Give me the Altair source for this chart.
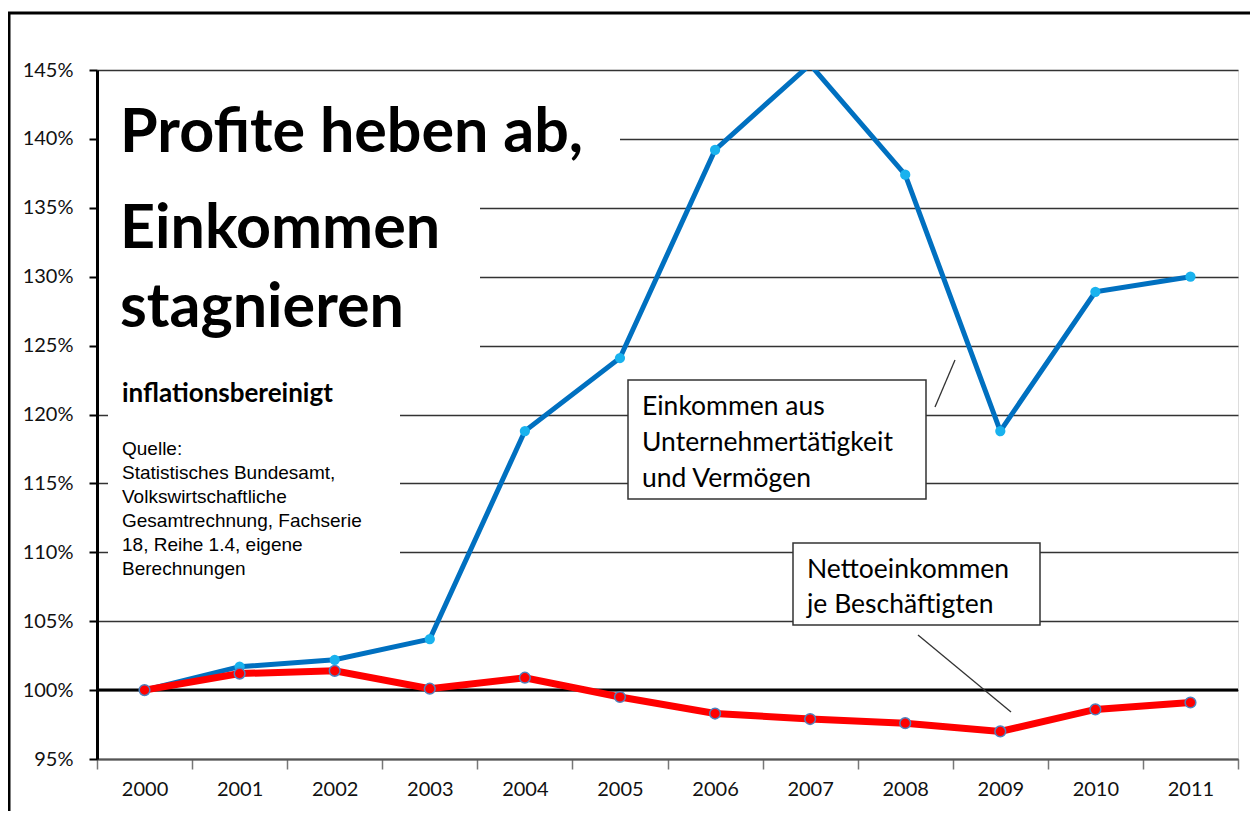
import altair as alt
import pandas as pd

# ---------------- data ----------------
years = ["2000", "2001", "2002", "2003", "2004", "2005",
         "2006", "2007", "2008", "2009", "2010", "2011"]
profit = [100.0, 101.7, 102.2, 103.7, 118.8, 124.1,
          139.2, 145.4, 137.4, 118.8, 128.9, 130.0]
netto = [100.0, 101.2, 101.4, 100.1, 100.9, 99.5,
         98.3, 97.9, 97.6, 97.0, 98.6, 99.1]
y_ticks = [95, 100, 105, 110, 115, 120, 125, 130, 135, 140, 145]
reference = [100]

title_lines = ["Profite heben ab,", "Einkommen", "stagnieren"]
subtitle = "inflationsbereinigt"
source_lines = ["Quelle:", "Statistisches Bundesamt,", "Volkswirtschaftliche",
                "Gesamtrechnung, Fachserie", "18, Reihe  1.4,  eigene", "Berechnungen"]
label_profit = ["Einkommen aus", "Unternehmertätigkeit", "und Vermögen"]
label_netto = ["Nettoeinkommen", "je Beschäftigten"]

df_profit = pd.DataFrame({"year": years, "value": profit})
df_netto = pd.DataFrame({"year": years, "value": netto})
df_ref = pd.DataFrame({"value": reference})
one = pd.DataFrame({"a": [0]})

W, H = 1141, 689
CAL = "Lato"
ARIAL = "Liberation Sans"

x_enc = alt.X("year:O", scale=alt.Scale(type="band", paddingInner=0, paddingOuter=0),
              bandPosition=0.5,
              axis=alt.Axis(title=None, tickBand="extent", labelAngle=0,
                            labelFont=CAL, labelFontSize=20, labelColor="#111",
                            labelPadding=10, tickSize=10, tickColor="#777",
                            tickWidth=1.5, domainColor="#555", domainWidth=2,
                            grid=False))
y_enc = alt.Y("value:Q", scale=alt.Scale(domain=[95, 145], nice=False, zero=False),
              axis=alt.Axis(title=None, values=y_ticks, labelExpr="datum.value + '%'",
                            labelFont=CAL, labelFontSize=20, labelColor="#111",
                            labelPadding=16, tickSize=8, tickColor="black",
                            tickWidth=2, domainColor="black", domainWidth=3,
                            grid=True, gridColor="#333333", gridWidth=1.4))


def px(X):
    return X - 97


def py(Y):
    return Y - 70


def mask(x1, x2, y1, y2):
    return alt.Chart(one).mark_rect(fill="white", strokeWidth=0).encode(
        x=alt.value(x1), x2=alt.value(x2), y=alt.value(y1), y2=alt.value(y2))


def text_block(lines, X, Y, font, size, weight="normal", lh=None):
    return alt.Chart(one).mark_text(
        text=lines, align="left", baseline="alphabetic", font=font,
        fontSize=size, fontWeight=weight, color="black",
        lineHeight=lh if lh else size * 1.2
    ).encode(x=alt.value(px(X)), y=alt.value(py(Y)))


def box(X1, X2, Y1, Y2):
    return alt.Chart(one).mark_rect(fill="white", stroke="#333", strokeWidth=1.5).encode(
        x=alt.value(px(X1)), x2=alt.value(px(X2)), y=alt.value(py(Y1)), y2=alt.value(py(Y2)))


def leader(X1, Y1, X2, Y2):
    return alt.Chart(one).mark_rule(color="#333", strokeWidth=1.3).encode(
        x=alt.value(px(X1)), y=alt.value(py(Y1)), x2=alt.value(px(X2)), y2=alt.value(py(Y2)))


frame = alt.Chart(one).mark_rect(fillOpacity=0, stroke="black", strokeWidth=3).encode(
    x=alt.value(-88), x2=alt.value(W + 200), y=alt.value(-57), y2=alt.value(H + 200))

masks = [
    mask(2, px(620), 3, py(146)),
    mask(2, px(480), py(146), py(360)),
    mask(px(108), px(400), py(360), py(600)),
]

ref_rule = alt.Chart(df_ref).mark_rule(color="black", strokeWidth=3).encode(y=y_enc)

blue_line = alt.Chart(df_profit).mark_line(color="#0070c0", strokeWidth=5, clip=True).encode(
    x=x_enc, y=y_enc)
blue_pts = alt.Chart(df_profit).mark_point(filled=True, color="#19b2ee", size=105, opacity=1,
                                           clip=True).encode(x=x_enc, y=y_enc)
red_line = alt.Chart(df_netto).mark_line(color="#ff0000", strokeWidth=7).encode(x=x_enc, y=y_enc)
red_pts = alt.Chart(df_netto).mark_point(filled=True, fill="#ff0000", stroke="#4f81bd",
                                         strokeWidth=1.5, size=115, opacity=1).encode(
    x=x_enc, y=y_enc)

title_layers = [
    text_block(title_lines[0], 120, 152, CAL, 61, "bold"),
    text_block(title_lines[1], 120, 248, CAL, 61, "bold"),
    text_block(title_lines[2], 120, 327, CAL, 61, "bold"),
    text_block(subtitle, 122, 402, CAL, 26, "bold"),
    text_block(source_lines, 122, 455, ARIAL, 19, "normal", 24),
]

callouts = [
    leader(935, 407, 955, 360),
    box(628, 926, 380, 499),
    text_block(label_profit, 642, 415, CAL, 26.5, "normal", 36),
    leader(918, 635, 1011, 712),
    box(793, 1040, 543, 625),
    text_block(label_netto, 807, 578, CAL, 26.5, "normal", 35),
]

chart = alt.layer(
    *masks, ref_rule, blue_line, blue_pts, red_line, red_pts,
    *title_layers, *callouts, frame
).properties(
    width=W, height=H,
    autosize=alt.AutoSizeParams(type="none"),
    padding={"left": 89, "top": 62, "right": 12, "bottom": 52},
).configure_view(
    stroke="black", strokeWidth=2.5
).configure(background="white")

chart.save("out.html", embed_options={"renderer": "svg", "actions": False})
